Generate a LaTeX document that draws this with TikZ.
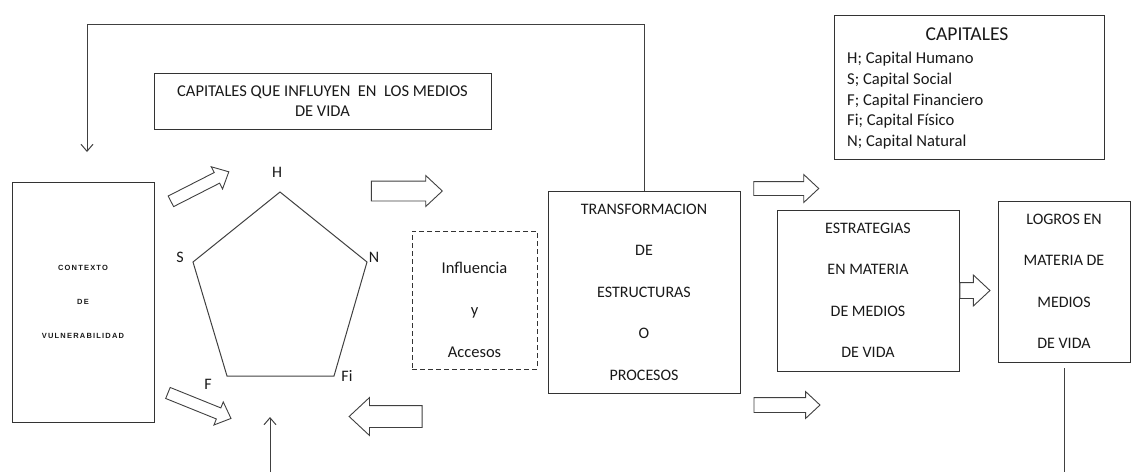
\documentclass[tikz,border=0pt]{standalone}
\usepackage{fontspec}
\setmainfont{Carlito}
\newfontfamily\ctxfont[LetterSpace=16]{Liberation Sans Bold}
\usetikzlibrary{shapes.arrows,arrows.meta,positioning}

\tikzset{
  caja/.style={draw=black!80, line width=1pt, align=center, inner sep=0pt,
               text=black!90, font=\fontsize{16}{41.5}\selectfont},
  flecha/.style={single arrow, draw=black!75, line width=0.9pt, fill=white,
                 inner xsep=0pt, minimum width=0pt, single arrow tip angle=86},
  linea/.style={draw=black!75, line width=1pt},
  punta/.style={linea, -{Straight Barb[length=7pt,width=12pt]}},
  letra/.style={text=black!90, inner sep=0pt, font=\fontsize{16}{20}\selectfont},
}

\begin{document}
\begin{tikzpicture}[x=1pt,y=-1pt]
\useasboundingbox (0,0) rectangle (1131,472);

% cajas
\node[caja, minimum width=142pt, minimum height=240pt, font=\ctxfont\fontsize{7.5}{34}\selectfont] (ctx) at (83,302)
  {CONTEXTO\\DE\\VULNERABILIDAD};
\node[caja, minimum width=337pt, minimum height=56pt, font=\fontsize{16.5}{20}\selectfont] (capq) at (322.5,101)
  {CAPITALES QUE INFLUYEN\ \ EN\ \ LOS MEDIOS\\DE VIDA};
\node[caja, minimum width=270pt, minimum height=144pt] (leyenda) at (969,87) {};
\node[letra, font=\fontsize{19.6}{22}\selectfont] (leytit) at (967,34) {CAPITALES};
\node[letra, align=left, anchor=north west, font=\fontsize{16.6}{20.7}\selectfont] (leylista) at (847,52)
  {H; Capital Humano\\S; Capital Social\\F; Capital Financiero\\Fi; Capital\ F\'isico\\N; Capital Natural};
\node[caja, minimum width=192pt, minimum height=202pt] (trans) at (644,292)
  {TRANSFORMACION\\DE\\ESTRUCTURAS\\O\\PROCESOS};
\node[caja, dash pattern=on 5pt off 3pt, minimum width=125pt, minimum height=138pt] (acc) at (474.5,300) {};
\node[letra, align=center, font=\fontsize{16.5}{42}\selectfont] (acctxt) at ([yshift=-10pt]acc.center)
  {Influencia\\y\\Accesos};
\node[caja, minimum width=182pt, minimum height=161pt] (estr) at (868,290.5)
  {ESTRATEGIAS\\EN MATERIA\\DE MEDIOS\\DE VIDA};
\node[caja, minimum width=132pt, minimum height=161pt] (logros) at (1064,281.5)
  {LOGROS EN\\MATERIA DE\\MEDIOS\\DE VIDA};

% pentagono
\coordinate (pH) at (280,192);
\coordinate (pN) at (367,262);
\coordinate (pFi) at (334,376);
\coordinate (pF) at (227,376);
\coordinate (pS) at (193,262);
\draw[linea] (pH) -- (pN) -- (pFi) -- (pF) -- (pS) -- cycle;
\node[letra] (lH) at (277,172) {H};
\node[letra] (lS) at (180,257) {S};
\node[letra] (lN) at (374,257) {N};
\node[letra] (lFi) at (347,376) {Fi};
\node[letra] (lF) at (208,384) {F};

% flechas gruesas
\node[flecha, rotate=27, minimum height=65pt, inner ysep=5.5pt, single arrow head extend=6.5pt] (fS) at (197,188) {};
\node[flecha, rotate=-22, minimum height=68pt, inner ysep=5.5pt, single arrow head extend=6.5pt] (fF) at (196.5,404.5) {};
\node[flecha, minimum height=71pt, inner ysep=9.5pt, single arrow head extend=5.5pt] (fH) at (401.5,191) {};
\node[flecha, shape border rotate=180, minimum height=73pt, inner ysep=10.5pt, single arrow head extend=8pt] (fAcc) at (391.5,416.5) {};
\node[flecha, minimum height=65pt, inner ysep=6.5pt, single arrow head extend=7pt] (fT1) at (782.5,188.5) {};
\node[flecha, minimum height=66pt, inner ysep=7pt, single arrow head extend=6pt] (fT2) at (783,405) {};
\node[flecha, minimum height=30pt, inner ysep=7.5pt, single arrow head extend=7.5pt, right=0pt of estr.east, anchor=west] (fE) {};

% lineas
\coordinate (retorno) at (87,24);
\coordinate (retfin) at (87,152);
\draw[punta] (trans.north) |- (retorno) -- (retfin);
\coordinate (abajo) at (270,472);
\coordinate (arriba) at (270,417);
\draw[punta] (abajo) -- (arriba);
\coordinate (lbase) at (1064,368);
\coordinate (lfin) at (1064,472);
\draw[linea] (lbase) -- (lfin);
\end{tikzpicture}
\end{document}
